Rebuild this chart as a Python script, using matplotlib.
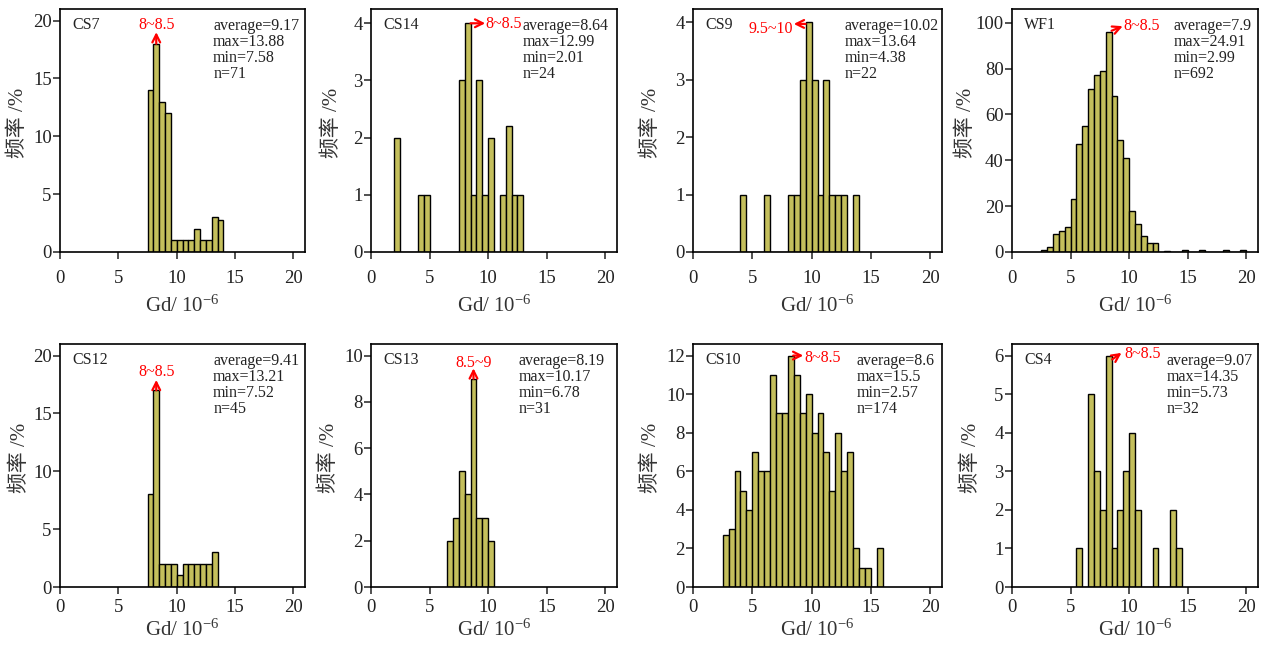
import numpy as np
import matplotlib.pyplot as plt

plt.rcParams['font.family'] = ['Liberation Serif', 'Noto Sans CJK SC']
plt.rcParams['mathtext.fontset'] = 'custom'
plt.rcParams['mathtext.rm'] = 'Liberation Serif'
plt.rcParams['mathtext.it'] = 'Liberation Serif:italic'

# bin counts (%), 0.5-wide bins starting at *_start
cs7_start = 7.5
cs7 = [14, 18, 13, 12, 1, 1, 1, 1, 2, 1, 1, 3, 2.8]
cs14_start = 2.0
cs14 = [2, 0, 0, 0, 1, 1, 0, 0, 0, 0, 0, 3, 4, 1, 3, 1, 2, 0, 1, 2.2, 1, 1]
cs9_start = 4.0
cs9 = [1, 0, 0, 0, 1, 0, 0, 0, 1, 1, 3, 4, 3, 1, 3, 1, 1, 1, 0, 1]
wf1_start = 2.5
wf1 = [1, 2, 8, 9, 11, 23, 47, 55, 71, 77, 79, 96, 68, 49, 41, 18, 12, 7, 4, 4,
       0, 0.5, 0, 0, 1, 0, 0, 1, 0, 0, 0, 1, 0, 0, 1]
cs12_start = 7.5
cs12 = [8, 17, 2, 2, 2, 1, 2, 2, 2, 2, 2, 3]
cs13_start = 6.5
cs13 = [2, 3, 5, 4, 9, 3, 3, 2]
cs10_start = 2.5
cs10 = [2.7, 3, 6, 5, 4, 7, 6, 6, 11, 9, 9, 12, 11, 9, 10, 8, 9, 7, 5, 8, 6, 7,
        2, 1, 1, 0, 2]
cs4_start = 5.5
cs4 = [1, 0, 5, 3, 2, 6, 1, 2, 3, 4, 2, 0, 0, 1, 0, 0, 2, 1]

names = ['CS7', 'CS14', 'CS9', 'WF1', 'CS12', 'CS13', 'CS10', 'CS4']
stats = [('9.17', '13.88', '7.58', '71'), ('8.64', '12.99', '2.01', '24'),
         ('10.02', '13.64', '4.38', '22'), ('7.9', '24.91', '2.99', '692'),
         ('9.41', '13.21', '7.52', '45'), ('8.19', '10.17', '6.78', '31'),
         ('8.6', '15.5', '2.57', '174'), ('9.07', '14.35', '5.73', '32')]
modes = ['8~8.5', '8~8.5', '9.5~10', '8~8.5', '8~8.5', '8.5~9', '8~8.5', '8~8.5']
yticks = [np.arange(0, 21, 5), np.arange(0, 5, 1), np.arange(0, 5, 1),
          np.arange(0, 101, 20), np.arange(0, 21, 5), np.arange(0, 11, 2),
          np.arange(0, 13, 2), np.arange(0, 7, 1)]
ytops = [21, 4.25, 4.23, 106, 21, 10.5, 12.6, 6.3]

data = [(cs7_start, cs7), (cs14_start, cs14), (cs9_start, cs9), (wf1_start, wf1),
        (cs12_start, cs12), (cs13_start, cs13), (cs10_start, cs10), (cs4_start, cs4)]

# arrow: (tail, head, text xy, ha)
arrows = [((8.25, 18.0), (8.25, 19.0), (8.25, 19.6), 'center'),
          ((8.5, 4.0), (9.75, 4.0), (9.8, 3.98), 'left'),
          ((9.5, 3.97), (8.5, 3.97), (8.45, 3.88), 'right'),
          ((8.5, 96.5), (9.45, 98.5), (9.55, 98.4), 'left'),
          ((8.25, 17.0), (8.25, 17.9), (8.25, 18.6), 'center'),
          ((8.75, 9.0), (8.75, 9.45), (8.75, 9.7), 'center'),
          ((8.45, 12.0), (9.3, 12.0), (9.4, 11.88), 'left'),
          ((8.55, 5.9), (9.35, 6.07), (9.6, 6.03), 'left')]

W, H = 1263, 647
fig = plt.figure(figsize=(W / 100, H / 100), dpi=100)
cols = [(60, 305), (371, 617), (693, 942), (1012, 1258)]
rows = [(9, 252), (344, 587)]
xpad = [8, 3.5]
xlab_y = [-0.18, -0.135]
stat_x = [0.625, 0.615, 0.61, 0.656, 0.625, 0.6, 0.657, 0.63]
ylab_x = [-0.13, -0.117, -0.128, -0.148, -0.122, -0.13, -0.129, -0.125]
barc = '#c4bf5c'

for i in range(8):
    l, r = cols[i % 4]
    t, b = rows[i // 4]
    ax = fig.add_axes([l / W, 1 - b / H, (r - l) / W, (b - t) / H])
    start, vals = data[i]
    x = start + 0.5 * np.arange(len(vals))
    ax.bar(x, vals, width=0.5, align='edge', color=barc, edgecolor='black',
           linewidth=1.0, zorder=2)
    ax.set_xlim(0, 21)
    ax.set_ylim(0, ytops[i])
    ax.set_xticks([0, 5, 10, 15, 20])
    ax.set_yticks(yticks[i])
    ax.tick_params(axis='both', direction='out', length=5, width=1.1,
                   labelsize=13.5, colors='#222222')
    ax.tick_params(axis='x', pad=xpad[i // 4])
    ax.tick_params(axis='y', pad=1)
    for s in ax.spines.values():
        s.set_linewidth(1.2)
    ax.set_ylabel('频率 /%', fontsize=15, color='#333333')
    ax.yaxis.set_label_coords(ylab_x[i], 0.53)
    ax.set_xlabel(r'Gd/ 10$^{-6}$', fontsize=15, color='#333333')
    ax.xaxis.set_label_coords(0.5, xlab_y[i // 4])
    ax.text(0.05, 0.935, names[i], transform=ax.transAxes, fontsize=11.5,
            va='center', ha='left', color='#222222')
    a, mx, mn, n = stats[i]
    ax.text(stat_x[i], 0.965, 'average=%s\nmax=%s\nmin=%s\nn=%s' % (a, mx, mn, n),
            transform=ax.transAxes, fontsize=11.5, va='top', ha='left',
            linespacing=1.0, color='#222222')
    tail, head, txy, ha = arrows[i]
    ax.annotate('', xy=head, xytext=tail,
                arrowprops=dict(arrowstyle='->', color='red', lw=1.6,
                                mutation_scale=14, shrinkA=0, shrinkB=0),
                zorder=5)
    ax.text(txy[0], txy[1], modes[i], color='red', fontsize=11.5, ha=ha,
            va='center', zorder=5)

fig.savefig('out.png', dpi=100)
